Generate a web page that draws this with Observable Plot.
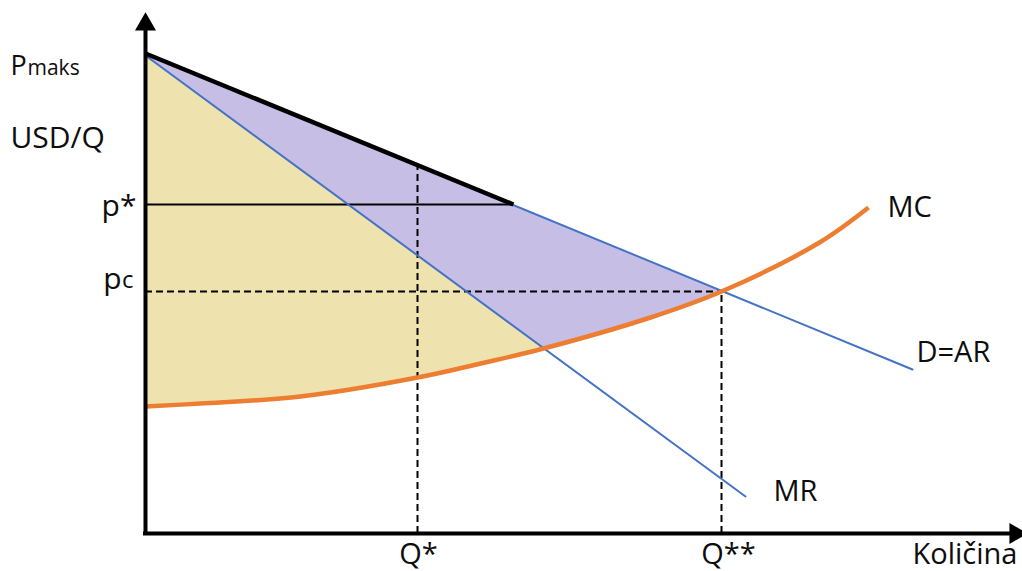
<!DOCTYPE html>
<html>
<head>
<meta charset="utf-8">
<script src="https://cdn.jsdelivr.net/npm/d3@7"></script>
<script src="https://cdn.jsdelivr.net/npm/@observablehq/plot@0.6"></script>
<style>
  html, body { margin: 0; padding: 0; background: #ffffff; }
  #chart { width: 1022px; height: 571px; overflow: hidden; }
</style>
</head>
<body>
<div id="chart"></div>
<script>
// ---- Data (quantity, price) ----
const demand = [{q: 0, p: 48.0}, {q: 76.7, p: 16.4}];          // D = AR
const demandMonopoly = [{q: 0, p: 48.0}, {q: 36.8, p: 32.9}];  // thick black part
const mr = [{q: 0, p: 47.8}, {q: 60.0, p: 3.7}];               // MR
const mc = [
  {q: 0, p: 12.7}, {q: 5.5, p: 13.0}, {q: 15.5, p: 13.7}, {q: 27.2, p: 15.6},
  {q: 33.5, p: 17.0}, {q: 39.8, p: 18.5}, {q: 50.5, p: 21.6}, {q: 57.6, p: 24.2},
  {q: 67.4, p: 29.1}, {q: 72.3, p: 32.6}
];
const qStar = 27.2, qStarStar = 57.6;
const pStar = 32.9, pC = 24.2;
const demandAtQStar = 36.8;
const mrMcCross = {q: 39.8, p: 18.5};
const dMcCross = {q: 57.6, p: 24.2};
const xTickLabels = ["Q*", "Q**"];
const curveLabels = ["MC", "D=AR", "MR"];
const axisTop = 50.6, axisRight = 86.7;

// ---- Regions built from the curves ----
const yellowRegion = [mr[0], mrMcCross, ...mc.filter(d => d.q < mrMcCross.q).reverse()];
const purpleRegion = [demand[0], dMcCross,
  ...mc.filter(d => d.q < dMcCross.q && d.q > mrMcCross.q).reverse(),
  mrMcCross, mr[0]];

const font = "Open Sans";
const txt = "#0d0d0d";
const dashed = {stroke: "#000", strokeWidth: 2, strokeDasharray: "7,4"};

const chart = Plot.plot({
  width: 1022,
  height: 571,
  margin: 0,
  x: {domain: [-14.5, 87.7], axis: null},
  y: {domain: [-3.8, 53.3], axis: null},
  style: {fontFamily: font, background: "white", overflow: "visible"},
  marks: [
    Plot.line(purpleRegion, {x: "q", y: "p", fill: "#c6bee4", stroke: "none"}),
    Plot.line(yellowRegion, {x: "q", y: "p", fill: "#eee2af", stroke: "none"}),
    // dashed guides
    Plot.ruleY([pC], {x1: 0, x2: qStarStar, ...dashed}),
    Plot.ruleX([qStarStar], {y1: 0, y2: pC, ...dashed}),
    Plot.ruleX([qStar], {y1: 0, y2: demandAtQStar, ...dashed}),
    // p* line
    Plot.ruleY([pStar], {x1: 0, x2: demandMonopoly[1].q, stroke: "#000", strokeWidth: 2}),
    // curves
    Plot.line(mr, {x: "q", y: "p", stroke: "#4472c4", strokeWidth: 2}),
    Plot.line(demand, {x: "q", y: "p", stroke: "#4472c4", strokeWidth: 2}),
    Plot.line(demandMonopoly, {x: "q", y: "p", stroke: "#000", strokeWidth: 4.5, strokeLinecap: "butt"}),
    Plot.line(mc, {x: "q", y: "p", stroke: "#ed7d31", strokeWidth: 4.5, curve: "catmull-rom", strokeLinecap: "butt"}),
    // axes
    Plot.ruleX([0], {y1: -0.2, y2: axisTop, stroke: "#000", strokeWidth: 4}),
    Plot.ruleY([0], {x1: -0.2, x2: axisRight, stroke: "#000", strokeWidth: 4}),
    Plot.dot([{q: 0, p: axisTop}], {x: "q", y: "p", symbol: "triangle", r: 7.8, fill: "#000", stroke: "none", dy: -3}),
    Plot.dot([{q: axisRight, p: 0}], {x: "q", y: "p", symbol: "triangle", r: 7.8, fill: "#000", stroke: "none", rotate: 90, dx: 3}),
    // y-axis labels
    Plot.text(["P"], {x: 0, y: demand[0].p, dx: -135, dy: 12.4, textAnchor: "start", fontSize: 27, fill: txt}),
    Plot.text(["maks"], {x: 0, y: demand[0].p, dx: -118, dy: 14.3, textAnchor: "start", fontSize: 21, fill: txt}),
    Plot.text(["USD/Q"], {x: 0, y: demand[0].p, dx: -135, dy: 84.4, textAnchor: "start", fontSize: 30, fill: txt}),
    Plot.text(["p*"], {x: 0, y: pStar, dx: -9, dy: 1.4, textAnchor: "end", fontSize: 30, fill: txt}),
    Plot.text(["p"], {x: 0, y: pC, dx: -24, dy: -12.6, textAnchor: "end", fontSize: 30, fill: txt}),
    Plot.text(["c"], {x: 0, y: pC, dx: -12, dy: -10.7, textAnchor: "end", fontSize: 24, fill: txt}),
    // x-axis labels
    Plot.text([xTickLabels[0]], {x: qStar, y: 0, dx: 1, dy: 21, textAnchor: "middle", fontSize: 29, fill: txt}),
    Plot.text([xTickLabels[1]], {x: qStarStar, y: 0, dx: 7, dy: 21, textAnchor: "middle", fontSize: 29, fill: txt}),
    Plot.text(["Količina"], {x: axisRight, y: 0, dx: -100, dy: 21, textAnchor: "start", fontSize: 29, fill: txt}),
    // curve labels
    Plot.text([curveLabels[0]], {x: mc[mc.length - 1].q, y: mc[mc.length - 1].p, dx: 19, dy: 0, textAnchor: "start", fontSize: 29, fill: txt}),
    Plot.text([curveLabels[1]], {x: demand[1].q, y: demand[1].p, dx: 4, dy: -17, textAnchor: "start", fontSize: 29, fill: txt}),
    Plot.text([curveLabels[2]], {x: mr[1].q, y: mr[1].p, dx: 28, dy: -5, textAnchor: "start", fontSize: 29, fill: txt})
  ]
});
document.getElementById("chart").appendChild(chart);
</script>
</body>
</html>
